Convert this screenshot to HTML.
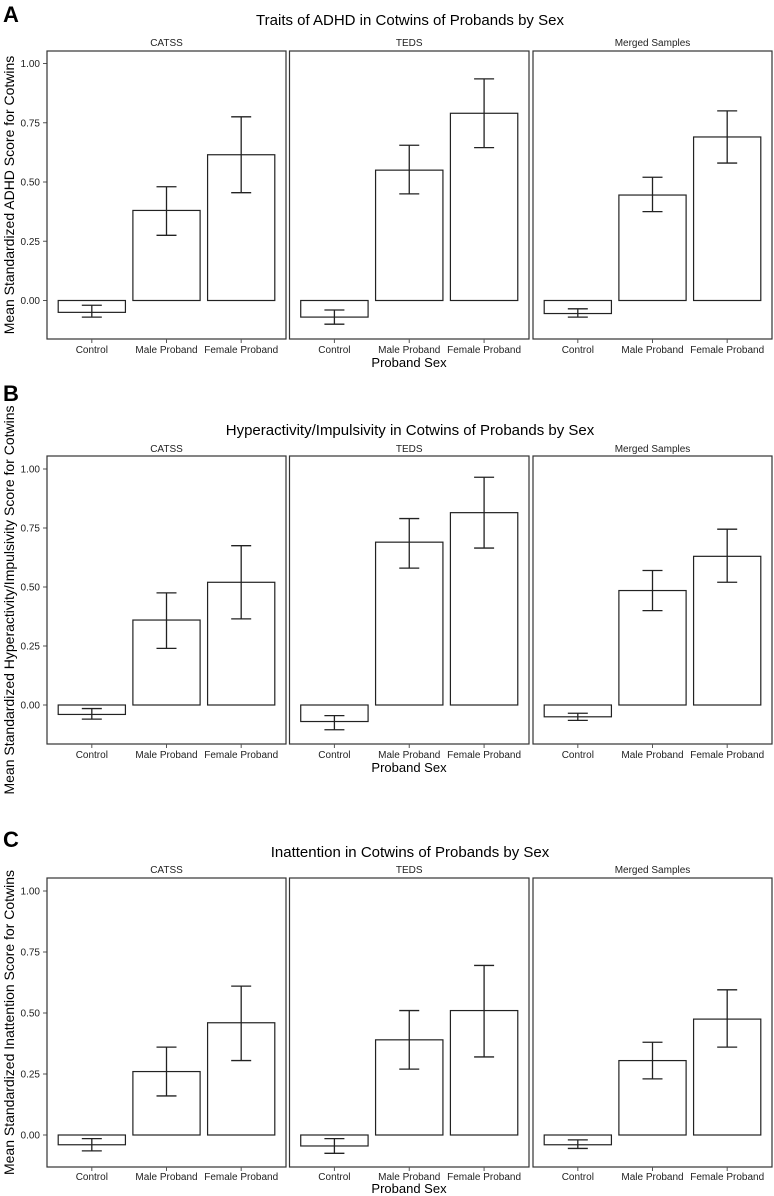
<!DOCTYPE html>
<html><head><meta charset="utf-8"><style>
html,body{margin:0;padding:0;background:#fff;}
svg{display:block;font-family:"Liberation Sans",Arial,sans-serif;}
</style></head><body>
<svg id="chart" width="774" height="1196" viewBox="0 0 774 1196" xmlns="http://www.w3.org/2000/svg"></svg>
<script>
const categories = ["Control", "Male Proband", "Female Proband"];
const samples = ["CATSS", "TEDS", "Merged Samples"];
const yTicks = [0, 0.25, 0.5, 0.75, 1.0];
const yTickLabels = ["0.00", "0.25", "0.50", "0.75", "1.00"];
const panelTitles = ["Traits of ADHD in Cotwins of Probands by Sex", "Hyperactivity/Impulsivity in Cotwins of Probands by Sex", "Inattention in Cotwins of Probands by Sex"];
const panelLetters = ["A", "B", "C"];
const yTitles = ["Mean Standardized ADHD Score for Cotwins", "Mean Standardized Hyperactivity/Impulsivity Score for Cotwins", "Mean Standardized Inattention Score for Cotwins"];
const meansA = [[-0.05, 0.38, 0.615], [-0.07, 0.55, 0.79], [-0.055, 0.445, 0.69]];
const lowA = [[-0.07, 0.275, 0.455], [-0.10, 0.45, 0.645], [-0.07, 0.375, 0.58]];
const highA = [[-0.02, 0.48, 0.775], [-0.04, 0.655, 0.935], [-0.035, 0.52, 0.80]];
const meansB = [[-0.04, 0.36, 0.52], [-0.07, 0.69, 0.815], [-0.05, 0.485, 0.63]];
const lowB = [[-0.06, 0.24, 0.365], [-0.105, 0.58, 0.665], [-0.065, 0.40, 0.52]];
const highB = [[-0.015, 0.475, 0.675], [-0.045, 0.79, 0.965], [-0.035, 0.57, 0.745]];
const meansC = [[-0.04, 0.26, 0.46], [-0.045, 0.39, 0.51], [-0.04, 0.305, 0.475]];
const lowC = [[-0.065, 0.16, 0.305], [-0.075, 0.27, 0.32], [-0.055, 0.23, 0.36]];
const highC = [[-0.015, 0.36, 0.61], [-0.015, 0.51, 0.695], [-0.02, 0.38, 0.595]];
const allMeans = [meansA, meansB, meansC];
const allLow = [lowA, lowB, lowC];
const allHigh = [highA, highB, highC];

const NS = "http://www.w3.org/2000/svg";
const svg = document.getElementById("chart");
function mk(tag, attrs, parent, text) {
  const e = document.createElementNS(NS, tag);
  for (const k in attrs) e.setAttribute(k, attrs[k]);
  if (text !== undefined) e.textContent = text;
  (parent || svg).appendChild(e);
  return e;
}
const geo = [
  {top: 51, y1: 63.5, y0: 300.5, bot: 339, title: 25, strip: 46, letter: 22, tick: 353, xt: 367},
  {top: 456, y1: 469, y0: 705, bot: 744, title: 435, strip: 452, letter: 401, tick: 758, xt: 772},
  {top: 878, y1: 891, y0: 1135, bot: 1167, title: 857, strip: 873, letter: 847, tick: 1180, xt: 1193}
];
const facetX = [[47, 286], [289.5, 529], [533, 772]];

geo.forEach((g, p) => {
  const grp = mk("g", {});
  
  
  const yS = v => g.y0 - (g.y0 - g.y1) * v;
  const L = mk("text", {x: 3, y: g.letter, "font-size": 22, "font-weight": "bold"}, grp, panelLetters[p]);
  
  
  const T = mk("text", {x: 410, y: g.title, "font-size": 15, "text-anchor": "middle"}, grp, panelTitles[p]);
  
  
  const yt = mk("text", {x: 0, y: 0, "font-size": 14, "text-anchor": "middle", transform: `translate(14,${(g.top + g.bot) / 2}) rotate(-90)`}, grp, yTitles[p]);
  
  
  const xt = mk("text", {x: 409, y: g.xt, "font-size": 13, "text-anchor": "middle"}, grp, "Proband Sex");
  
  
  yTicks.forEach((t, i) => {
    const yy = yS(t);
    const tl = mk("text", {x: 40, y: yy + 3.5, "font-size": 10, "text-anchor": "end", fill: "#222"}, grp, yTickLabels[i]);
    
    
    mk("line", {x1: 43, x2: 47, y1: yy, y2: yy, stroke: "#555", "stroke-width": 1}, grp);
  });
  samples.forEach((s, f) => {
    const [xa, xb] = facetX[f];
    const unit = (xb - xa) / 3.2;
    const xS = c => xa + unit * (c + 0.6);
    const st = mk("text", {x: (xa + xb) / 2, y: g.strip, "font-size": 10, "text-anchor": "middle", fill: "#222"}, grp, s);
    
    
    const box = mk("rect", {x: xa, y: g.top, width: xb - xa, height: g.bot - g.top, fill: "none", stroke: "#333", "stroke-width": 1.2}, grp);
    
    
    categories.forEach((c, k) => {
      const cx = xS(k);
      const m = allMeans[p][f][k];
      const ya = yS(m), yb = yS(0);
      const bar = mk("rect", {x: cx - unit * 0.45, y: Math.min(ya, yb), width: unit * 0.9, height: Math.abs(ya - yb), fill: "#fff", stroke: "#222", "stroke-width": 1.2}, grp);
      
      
      const lo = yS(allLow[p][f][k]), hi = yS(allHigh[p][f][k]);
      const eb = mk("path", {d: `M${cx - 10},${hi}H${cx + 10}M${cx},${hi}V${lo}M${cx - 10},${lo}H${cx + 10}`, stroke: "#222", "stroke-width": 1.3, fill: "none"}, grp);
      
      
      mk("line", {x1: cx, x2: cx, y1: g.bot, y2: g.bot + 4, stroke: "#555"}, grp);
      const xl = mk("text", {x: cx, y: g.tick, "font-size": 10, "text-anchor": "middle", fill: "#222"}, grp, c);
      
      
    });
  });
});
</script>
</body></html>
